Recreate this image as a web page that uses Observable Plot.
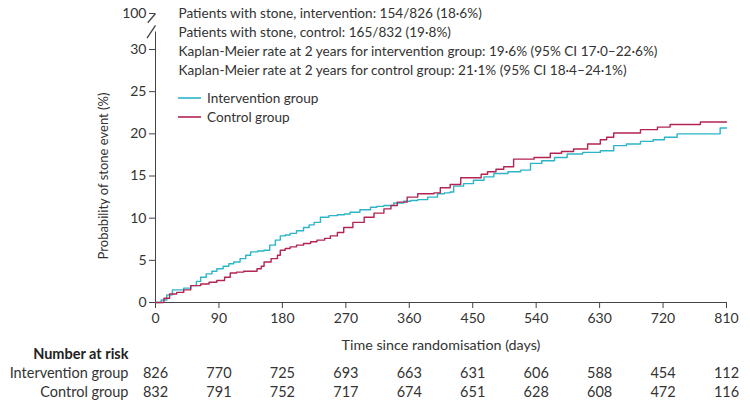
<!DOCTYPE html>
<html>
<head>
<meta charset="utf-8">
<script src="https://cdn.jsdelivr.net/npm/d3@7"></script>
<script src="https://cdn.jsdelivr.net/npm/@observablehq/plot@0.6"></script>
<style>
  html, body { margin: 0; padding: 0; background: #fff; }
  #chart svg { font-family: Lato, "Noto Sans", sans-serif; }
</style>
</head>
<body>
<div id="chart"></div>
<script>
// ---- data ----
const interventionDays = [0, 8, 16, 24, 40, 50, 58, 64, 72, 80, 87, 96, 104, 111, 120, 128, 135, 145, 154, 162, 170, 177, 184, 191, 200, 210, 218, 225, 234, 246, 258, 268, 276, 290, 305, 314, 324, 338, 352, 362, 372, 386, 400, 410, 418, 423, 437, 451, 466, 480, 500, 518, 532, 548, 566, 584, 606, 631, 650, 668, 688, 706, 722, 740, 770, 801, 810];
const interventionPct  = [0, 0.3, 0.9, 1.5, 1.7, 2.0, 2.5, 3.0, 3.4, 3.7, 4.0, 4.3, 4.6, 4.8, 5.2, 5.6, 6.0, 6.1, 6.2, 6.8, 7.4, 7.9, 8.0, 8.2, 8.5, 8.9, 9.2, 9.5, 10.1, 10.3, 10.4, 10.5, 10.7, 11.0, 11.3, 11.4, 11.5, 11.8, 12.0, 12.1, 12.2, 12.5, 12.9, 13.0, 13.1, 13.8, 14.1, 14.5, 14.9, 15.3, 15.5, 15.7, 16.5, 16.8, 17.2, 17.6, 17.8, 18.0, 18.6, 18.8, 19.1, 19.3, 19.6, 20.0, 20.0, 20.7, 20.7];
const controlDays = [0, 12, 20, 30, 40, 50, 64, 76, 87, 98, 106, 115, 125, 144, 150, 154, 164, 173, 177, 184, 191, 200, 210, 220, 229, 240, 248, 258, 267, 280, 296, 310, 324, 334, 343, 357, 372, 395, 404, 418, 433, 451, 462, 471, 483, 494, 508, 537, 556, 560, 576, 593, 613, 631, 640, 650, 688, 712, 730, 773, 810];
const controlPct  = [0, 0.5, 1.0, 1.2, 1.5, 2.0, 2.2, 2.4, 2.6, 3.0, 3.5, 3.6, 3.7, 4.0, 4.3, 4.8, 5.2, 5.6, 6.2, 6.4, 6.6, 6.8, 7.0, 7.2, 7.4, 7.6, 7.9, 8.3, 8.9, 9.5, 10.1, 10.6, 11.1, 11.5, 11.9, 12.5, 12.9, 13.0, 13.6, 14.0, 14.8, 14.8, 15.2, 15.5, 15.8, 16.1, 17.0, 17.2, 17.2, 17.7, 17.9, 18.2, 18.8, 19.3, 19.6, 20.1, 20.5, 20.8, 21.1, 21.4, 21.4];

const groups = ["Intervention group", "Control group"];
const xTicks = [0, 90, 180, 270, 360, 450, 540, 630, 720, 810];
const yTicks = [0, 5, 10, 15, 20, 25, 30, 100];
const riskIntervention = [826, 770, 725, 693, 663, 631, 606, 588, 454, 112];
const riskControl      = [832, 791, 752, 717, 674, 651, 628, 608, 472, 116];
const annotations = [
  "Patients with stone, intervention: 154/826 (18·6%)",
  "Patients with stone, control: 165/832 (19·8%)",
  "Kaplan-Meier rate at 2 years for intervention group: 19·6% (95% CI 17·0–22·6%)",
  "Kaplan-Meier rate at 2 years for control group: 21·1% (95% CI 18·4–24·1%)"
];
const colors = ["#2cb5c7", "#b42453"];
const textColor = "#333333";
const axisColor = "#444444";

// ---- build tables ----
const curves = [
  ...interventionDays.map((d, i) => ({day: d, pct: interventionPct[i], group: groups[0]})),
  ...controlDays.map((d, i) => ({day: d, pct: controlPct[i], group: groups[1]}))
];
const riskTables = [
  xTicks.map((t, i) => ({day: t, n: riskIntervention[i]})),
  xTicks.map((t, i) => ({day: t, n: riskControl[i]}))
];

// legend as a render-function mark (positions relative to the frame)
function legendMark(index, scales, values, dimensions) {
  const g = d3.create("svg:g").attr("text-anchor", "start");
  const x0 = dimensions.marginLeft + 23;
  groups.forEach((name, i) => {
    const y = dimensions.marginTop + 85 + i * 19;
    g.append("line").attr("x1", x0).attr("x2", x0 + 23).attr("y1", y).attr("y2", y)
      .attr("stroke", colors[i]).attr("stroke-width", 1.6);
    g.append("text").attr("x", x0 + 29).attr("y", y).attr("dy", "0.35em")
      .attr("fill", textColor).attr("font-size", 13.6).text(name);
  });
  return g.node();
}

const chart = Plot.plot({
  width: 750,
  height: 405,
  marginLeft: 155,
  marginRight: 24,
  marginTop: 13,
  marginBottom: 103,
  style: {fontSize: "14px", color: textColor, background: "#fff"},
  x: {domain: [0, 810], ticks: xTicks, label: null},
  y: {type: "linear", domain: [0, 30, 100], range: [302, 49, 13], ticks: yTicks, label: null},
  color: {domain: groups, range: colors},
  marks: [
    // axes
    Plot.axisX({ticks: xTicks, tickSize: 6, tickPadding: 5, fontSize: 14, stroke: axisColor, fill: textColor}),
    Plot.axisY({ticks: yTicks, tickSize: 6, tickPadding: 3, fontSize: 14, stroke: axisColor, fill: textColor}),
    Plot.ruleY([0], {stroke: axisColor}),
    Plot.ruleX([0], {y1: 0, y2: 64, stroke: axisColor}),
    // axis break marks
    Plot.link([{x1: 0, y1: 100, x2: -11, y2: 82}, {x1: 0, y1: 77, x2: -12, y2: 52}],
      {x1: "x1", y1: "y1", x2: "x2", y2: "y2", stroke: axisColor, strokeWidth: 1.3}),
    // curves
    Plot.line(curves, {x: "day", y: "pct", stroke: "group", curve: "step-after", strokeWidth: 1.4}),
    // y label
    Plot.text(["Probability of stone event (%)"], {frameAnchor: "left", textAnchor: "middle", dx: -52, dy: 18, rotate: -90, fontSize: 13, fill: textColor}),
    // x label
    Plot.text(["Time since randomisation (days)"], {frameAnchor: "bottom", lineAnchor: "middle", dy: 43, fontSize: 14.3, fill: textColor}),
    // annotations
    ...annotations.map((a, i) => Plot.text([a], {frameAnchor: "top-left", lineAnchor: "middle", dx: 23, dy: i * 19, textAnchor: "start", fontSize: 13.6, fill: textColor})),
    // legend
    legendMark,
    // number at risk
    Plot.text(["Number at risk"], {frameAnchor: "bottom-left", lineAnchor: "middle", dx: -27, dy: 52, textAnchor: "end", fontSize: 14.5, fontWeight: "bold", fill: "#222"}),
    ...groups.map((g, i) => Plot.text([g], {frameAnchor: "bottom-left", lineAnchor: "middle", dx: -27, dy: 71 + i * 19, textAnchor: "end", fontSize: 14.5, fill: textColor})),
    ...riskTables.map((rows, i) => Plot.text(rows, {x: "day", text: "n", frameAnchor: "bottom", lineAnchor: "middle", dy: 71 + i * 19, fontSize: 14.5, fill: textColor}))
  ]
});
document.getElementById("chart").appendChild(chart);
</script>
</body>
</html>
